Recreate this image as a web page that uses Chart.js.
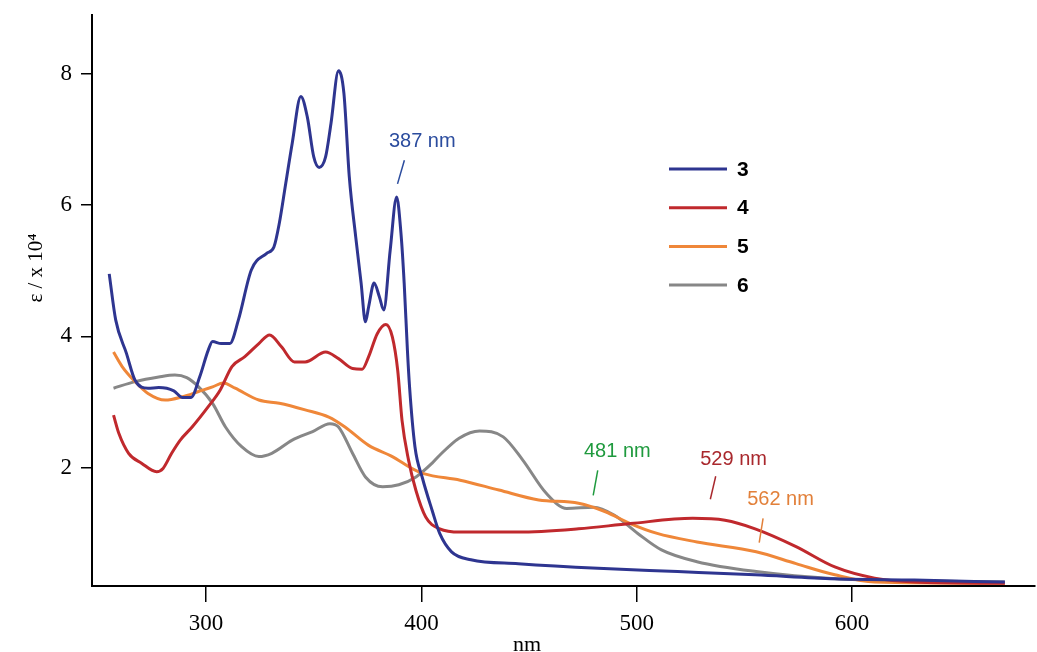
<!DOCTYPE html>
<html>
<head>
<meta charset="utf-8">
<script src="https://cdn.jsdelivr.net/npm/chart.js@4"></script>
<style>
	body { margin: 0; background: #fff; }
	#wrap { width: 1037px; height: 652px; position: relative; }
</style>
</head>
<body>
<div id="wrap"><canvas id="spectra"></canvas></div>
<script>
// Absorption spectra, epsilon / x 10^4 against wavelength (nm)
const xTicks = [300, 400, 500, 600];
const yTicks = [2, 4, 6, 8];

const seriesNames = ["3", "4", "5", "6"];

const blueNm = [255, 258, 263, 267, 273, 278, 285, 289, 293, 297, 301, 303, 307, 311, 315, 321, 328, 331.5, 334, 337, 340, 344, 347, 350, 352.5, 355.5, 358, 361.5, 364, 366.5, 369.5, 372, 374, 375.5, 378, 380.5, 382.5, 385.5, 388.5, 390.5, 392, 393.5, 394.5, 397, 400.5, 405, 408.5, 414, 423, 445, 482, 519, 555, 592, 629, 671];
const blueEps = [4.95, 4.25, 3.74, 3.33, 3.21, 3.22, 3.17, 3.07, 3.07, 3.38, 3.79, 3.92, 3.89, 3.89, 4.25, 5.01, 5.26, 5.36, 5.72, 6.33, 6.94, 7.65, 7.34, 6.73, 6.57, 6.73, 7.24, 8.04, 7.70, 6.43, 5.51, 4.81, 4.22, 4.45, 4.81, 4.60, 4.40, 5.31, 6.12, 5.57, 4.81, 3.79, 3.23, 2.32, 1.84, 1.35, 1.0, 0.72, 0.60, 0.54, 0.47, 0.42, 0.37, 0.31, 0.29, 0.26];

const redNm = [257, 259.5, 264, 270, 277, 280, 284, 288, 293.5, 301, 306.5, 312, 318, 324.5, 329.5, 335, 341, 346, 355.5, 361.5, 368, 372.5, 375.5, 379.5, 383.5, 386.5, 389, 391, 394, 397.5, 402, 408.5, 418, 445, 473, 497, 526, 541, 555, 574, 592, 610.5, 629, 671];
const redEps = [2.80, 2.52, 2.22, 2.07, 1.94, 1.99, 2.22, 2.42, 2.62, 2.93, 3.18, 3.54, 3.69, 3.89, 4.02, 3.84, 3.61, 3.61, 3.76, 3.66, 3.51, 3.50, 3.69, 4.04, 4.18, 3.99, 3.48, 2.72, 2.12, 1.65, 1.25, 1.07, 1.02, 1.02, 1.07, 1.15, 1.23, 1.20, 1.07, 0.80, 0.49, 0.32, 0.26, 0.24];

const orangeNm = [257, 261, 267, 273, 281, 289, 296.5, 303, 308, 313.5, 324.5, 334, 346, 357, 364.5, 375.5, 386.5, 395.5, 401, 418, 436, 454.5, 473, 485.5, 497, 509.5, 528, 555.5, 574, 592, 610.5, 671];
const orangeEps = [3.76, 3.54, 3.31, 3.13, 3.03, 3.08, 3.16, 3.23, 3.29, 3.21, 3.03, 2.98, 2.88, 2.77, 2.62, 2.34, 2.17, 1.99, 1.91, 1.81, 1.66, 1.51, 1.46, 1.33, 1.15, 1.0, 0.87, 0.72, 0.54, 0.37, 0.26, 0.24];

const grayNm = [257, 267, 278, 285.5, 291, 296.5, 303, 309, 316.5, 324.5, 330.5, 340, 349.5, 357.5, 361.5, 368, 374, 382, 389.5, 397.5, 405, 408.5, 417.5, 427, 438, 447, 458, 467.5, 480, 489.5, 500.5, 511.5, 528, 555.5, 592, 629, 671];
const grayEps = [3.21, 3.31, 3.38, 3.41, 3.37, 3.23, 2.98, 2.62, 2.32, 2.17, 2.22, 2.42, 2.55, 2.67, 2.62, 2.22, 1.86, 1.71, 1.74, 1.86, 2.07, 2.19, 2.45, 2.56, 2.47, 2.12, 1.61, 1.38, 1.40, 1.28, 1.0, 0.75, 0.57, 0.42, 0.31, 0.28, 0.26];

// peak labels: text, label position, and the short pointer line
const peakText = ["387 nm", "481 nm", "529 nm", "562 nm"];
const peakLabelNm = [400.4, 491, 545, 566.8];
const peakLabelEps = [6.97, 2.24, 2.13, 1.52];
const peakLineNm = [[392.1, 388.9], [481.9, 479.8], [536.7, 534.2], [558.7, 556.9]];
const peakLineEps = [[6.68, 6.32], [1.96, 1.58], [1.87, 1.52], [1.23, 0.86]];
const peakColors = ["#2b4c9e", "#1f9a3e", "#a9282d", "#e2803a"];

const lineColors = ["#2e3590", "#c0292d", "#ef8739", "#878787"];

const toPoints = (xs, ys) => xs.map((x, i) => ({ x: x, y: ys[i] }));

const allSeries = [
	toPoints(blueNm, blueEps),
	toPoints(redNm, redEps),
	toPoints(orangeNm, orangeEps),
	toPoints(grayNm, grayEps),
];

const overlays = {
	id: "overlays",
	afterDraw(chart) {
		const ctx = chart.ctx;
		const xs = chart.scales.x;
		const ys = chart.scales.y;
		ctx.save();

		// peak annotations
		peakText.forEach((t, i) => {
			ctx.fillStyle = peakColors[i];
			ctx.strokeStyle = peakColors[i];
			ctx.font = "20px 'Liberation Sans', Arial, sans-serif";
			ctx.textAlign = "center";
			ctx.textBaseline = "middle";
			ctx.fillText(t, xs.getPixelForValue(peakLabelNm[i]), ys.getPixelForValue(peakLabelEps[i]));
			ctx.lineWidth = 1.5;
			ctx.beginPath();
			ctx.moveTo(xs.getPixelForValue(peakLineNm[i][0]), ys.getPixelForValue(peakLineEps[i][0]));
			ctx.lineTo(xs.getPixelForValue(peakLineNm[i][1]), ys.getPixelForValue(peakLineEps[i][1]));
			ctx.stroke();
		});

		// legend
		seriesNames.forEach((name, i) => {
			const y = 169 + i * 38.7;
			ctx.strokeStyle = lineColors[i];
			ctx.lineWidth = 3;
			ctx.beginPath();
			ctx.moveTo(669, y);
			ctx.lineTo(727, y);
			ctx.stroke();
			ctx.fillStyle = "#000";
			ctx.font = "bold 21px 'Liberation Sans', Arial, sans-serif";
			ctx.textAlign = "left";
			ctx.textBaseline = "middle";
			ctx.fillText(name, 737, y + 1);
		});

		// axis titles
		ctx.fillStyle = "#000";
		ctx.font = "22px 'Liberation Serif', 'Times New Roman', serif";
		ctx.textAlign = "center";
		ctx.textBaseline = "alphabetic";
		ctx.fillText("nm", 527, 651);

		ctx.translate(36, 268);
		ctx.rotate(-Math.PI / 2);
		ctx.font = "21px 'Liberation Serif', 'Times New Roman', serif";
		ctx.textBaseline = "middle";
		ctx.fillText("\u03b5 / x 10\u2074", 0, 0);
		ctx.restore();
	},
};

new Chart(document.getElementById("spectra"), {
	type: "line",
	data: {
		datasets: allSeries.map((pts, i) => ({
			label: seriesNames[i],
			data: pts,
			borderColor: lineColors[i],
			borderWidth: 3,
			pointRadius: 0,
			fill: false,
			cubicInterpolationMode: "monotone",
		})),
	},
	options: {
		responsive: true,
		maintainAspectRatio: false,
		animation: false,
		layout: { padding: { top: 15, right: 2, left: 0, bottom: 0 } },
		plugins: {
			legend: { display: false },
			tooltip: { enabled: false },
		},
		scales: {
			x: {
				type: "linear",
				min: 247,
				max: 685,
				afterFit: (s) => { s.height = 66; s.paddingLeft = 0; s.paddingRight = 0; },
				afterBuildTicks: (s) => { s.ticks = xTicks.map((v) => ({ value: v })); },
				border: { display: true, color: "#000", width: 2 },
				grid: { display: true, drawOnChartArea: false, drawTicks: true, tickLength: 16, color: "#000", lineWidth: 1.5 },
				ticks: {
					color: "#000",
					padding: 8,
					maxRotation: 0,
					font: { family: "'Liberation Serif', 'Times New Roman', serif", size: 23 },
				},
			},
			y: {
				type: "linear",
				min: 0.2,
				max: 8.89,
				afterFit: (s) => { s.width = 92; s.paddingTop = 0; s.paddingBottom = 0; },
				afterBuildTicks: (s) => { s.ticks = yTicks.map((v) => ({ value: v })); },
				border: { display: true, color: "#000", width: 2 },
				grid: { display: true, drawOnChartArea: false, drawTicks: true, tickLength: 11, color: "#000", lineWidth: 1.5 },
				ticks: {
					color: "#000",
					padding: 9,
					font: { family: "'Liberation Serif', 'Times New Roman', serif", size: 23 },
				},
			},
		},
	},
	plugins: [overlays],
});
</script>
</body>
</html>
